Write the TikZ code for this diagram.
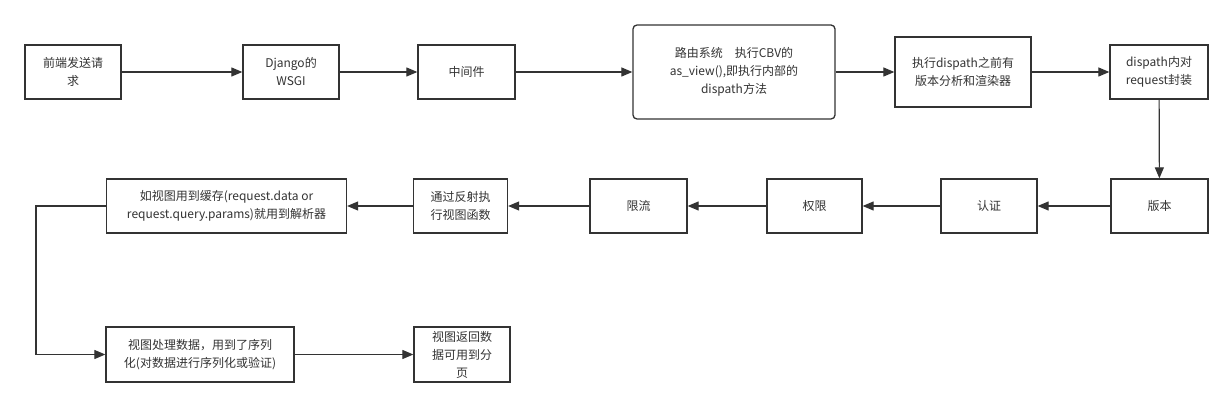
\documentclass[tikz,border=0pt]{standalone}
\usepackage{fontspec}
\setmainfont{Noto Sans CJK SC}
\usetikzlibrary{arrows.meta}
\definecolor{linegray}{HTML}{333333}
\definecolor{textgray}{HTML}{333333}

\begin{document}
\begin{tikzpicture}[x=1pt,y=-1pt]
\tikzstyle{every node}+=[inner sep=0pt]
\tikzstyle{box}=[draw=linegray,line width=1.3pt,fill=white,text=textgray,align=center,minimum height=54pt,font=\fontsize{12}{18}\selectfont]
\tikzstyle{flow}=[draw=linegray,line width=1.2pt,-{Triangle[length=11pt,width=9pt]}]
\useasboundingbox (0,0) rectangle (1232,406);
\node [box,minimum width=96pt] (front) at (73,72) {前端发送请\\求};
\node [box,minimum width=96pt] (wsgi) at (291,72) {Django的\\WSGI};
\node [box,minimum width=97pt] (mid) at (466.5,72) {中间件};
\node [box,minimum width=202pt,minimum height=94pt,rounded corners=4pt] (route) at (734,72) {路由系统\quad 执行CBV的\\as\_view(),即执行内部的\\dispath方法};
\node [box,minimum width=136pt,minimum height=70pt] (pre) at (963,72) {执行dispath之前有\\版本分析和渲染器};
\node [box,minimum width=98pt] (wrap) at (1159,72) {dispath内对\\request封装};
\node [box,minimum width=97pt] (ver) at (1159.5,206) {版本};
\node [box,minimum width=96pt] (auth) at (989,206) {认证};
\node [box,minimum width=95pt] (perm) at (814.5,206) {权限};
\node [box,minimum width=97pt] (thr) at (638.5,206) {限流};
\node [box,minimum width=94pt] (refl) at (460.5,206) {通过反射执\\行视图函数};
\node [box,minimum width=240pt] (cache) at (226.5,206) {如视图用到缓存(request.data or\\request.query.params)就用到解析器};
\node [box,minimum width=188pt,minimum height=55pt] (ser) at (200,354.5) {视图处理数据，用到了序列\\化(对数据进行序列化或验证)};
\node [box,minimum width=96pt,minimum height=55pt] (page) at (462,354.5) {视图返回数\\据可用到分\\页};
\coordinate (turn1) at (36,206);
\coordinate (turn2) at (36,354.5);
\draw [flow] (front) -- (wsgi);
\draw [flow] (wsgi) -- (mid);
\draw [flow] (mid) -- (route);
\draw [flow] (route) -- (pre);
\draw [flow] (pre) -- (wrap);
\draw [flow] (wrap) -- (ver);
\draw [flow] (ver) -- (auth);
\draw [flow] (auth) -- (perm);
\draw [flow] (perm) -- (thr);
\draw [flow] (thr) -- (refl);
\draw [flow] (refl) -- (cache);
\draw [flow] (cache.west) -- (turn1) -- (turn2) -- (ser.west);
\draw [flow] (ser) -- (page);
\end{tikzpicture}
\end{document}
